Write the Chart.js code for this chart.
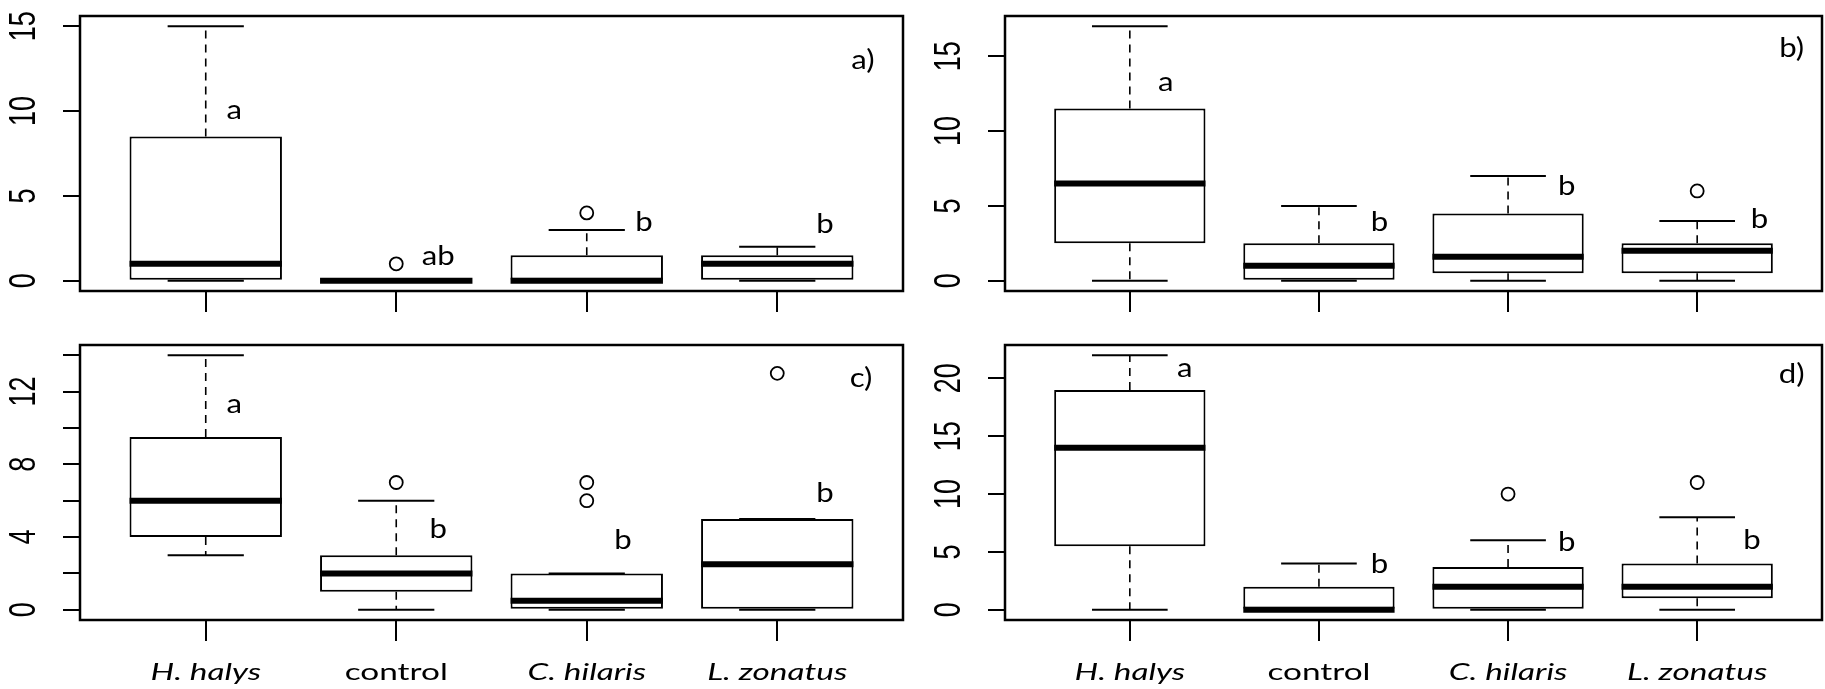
<!DOCTYPE html>
<html><head><meta charset="utf-8">
<script src="https://cdn.jsdelivr.net/npm/chart.js@4.4.1/dist/chart.umd.min.js"></script>
<style>
html,body{margin:0;padding:0;background:#fff;width:1825px;height:689px;overflow:hidden;position:relative}
canvas{position:absolute;display:block}
</style></head><body>
<canvas id="pa" width="912" height="330" style="left:0;top:0"></canvas>
<canvas id="pb" width="913" height="330" style="left:912px;top:0"></canvas>
<canvas id="pc" width="912" height="359" style="left:0;top:330px"></canvas>
<canvas id="pd" width="913" height="359" style="left:912px;top:330px"></canvas>
<script>
// ---------- DATA ----------
const categories = ['H. halys', 'control', 'C. hilaris', 'L. zonatus'];
const categoryItalic = [true, false, true, true];

// panel a)
const aMin = [0, 0, 0, 0];
const aQ1  = [0, 0, 0, 0];
const aMed = [1, 0, 0, 1];
const aQ3  = [8.5, 0, 1.5, 1.5];
const aMax = [15, 0, 3, 2];
const aOutliers = [[], [1], [4], []];
const aLetters = ['a', 'ab', 'b', 'b'];
const aYTicks = [0, 5, 10, 15];
const aYLabels = ['0', '5', '10', '15'];

// panel b)
const bMin = [0, 0, 0, 0];
const bQ1  = [2.5, 0, 0.5, 0.5];
const bMed = [6.5, 1, 1.6, 2];
const bQ3  = [11.5, 2.5, 4.5, 2.5];
const bMax = [17, 5, 7, 4];
const bOutliers = [[], [], [], [6]];
const bLetters = ['a', 'b', 'b', 'b'];
const bYTicks = [0, 5, 10, 15];
const bYLabels = ['0', '5', '10', '15'];

// panel c)
const cMin = [3, 0, 0, 0];
const cQ1  = [4, 1, 0, 0];
const cMed = [6, 2, 0.5, 2.5];
const cQ3  = [9.5, 3, 2, 5];
const cMax = [14, 6, 2, 5];
const cOutliers = [[], [7], [6, 7], [13]];
const cLetters = ['a', 'b', 'b', 'b'];
const cYTicks = [0, 2, 4, 6, 8, 10, 12, 14];
const cYLabels = ['0', '', '4', '', '8', '', '12', ''];

// panel d)
const dMin = [0, 0, 0, 0];
const dQ1  = [5.5, 0, 0, 1];
const dMed = [14, 0, 2, 2];
const dQ3  = [19, 2, 3.7, 4];
const dMax = [22, 4, 6, 8];
const dOutliers = [[], [], [10], [11]];
const dLetters = ['a', 'b', 'b', 'b'];
const dYTicks = [0, 5, 10, 15, 20];
const dYLabels = ['0', '5', '10', '15', '20'];

const panelTags = ['a)', 'b)', 'c)', 'd)'];

// ---------- annotation placement (data units) ----------
const letterPosA = [[1.15, 10.0], [2.22, 1.4], [3.30, 3.4], [4.25, 3.3]];
const letterPosB = [[1.19, 13.2], [2.32, 3.9], [3.31, 6.3], [4.33, 4.1]];
const letterPosC = [[1.15, 11.3], [2.22, 4.4], [3.19, 3.8], [4.25, 6.4]];
const letterPosD = [[1.29, 20.8], [2.32, 3.9], [3.31, 5.8], [4.29, 6.0]];
const tagPos = [[4.45, 13.0], [4.50, 15.5], [4.44, 12.7], [4.50, 20.3]];

// ---------- helpers ----------
function txt(ctx, s, x, y, font, sx, align, base, rot) {
  ctx.save();
  ctx.translate(x, y);
  ctx.scale(sx, 1);
  if (rot) ctx.rotate(rot);
  ctx.font = font;
  ctx.fillStyle = '#000';
  ctx.textAlign = align;
  ctx.textBaseline = base;
  ctx.fillText(s, 0, 0);
  ctx.restore();
}
function seg(ctx, x1, y1, x2, y2) {
  ctx.beginPath(); ctx.moveTo(x1, y1); ctx.lineTo(x2, y2); ctx.stroke();
}

const rboxPlugin = {
  id: 'rbox',
  afterDatasetsDraw(chart) {
    const p = chart.options.plugins.rbox;
    const xs = chart.scales.x, ys = chart.scales.y, ctx = chart.ctx;
    const ca = chart.chartArea;
    ctx.save();
    ctx.strokeStyle = '#000';
    for (let i = 0; i < categories.length; i++) {
      const cx = xs.getPixelForValue(i + 1);
      const hw = (xs.getPixelForValue(i + 1.4) - xs.getPixelForValue(i + 0.6)) / 2;
      const sw = hw / 2;
      const yMin = ys.getPixelForValue(p.min[i]);
      const yQ1 = ys.getPixelForValue(p.q1[i]);
      const yMed = ys.getPixelForValue(p.med[i]);
      const yQ3 = ys.getPixelForValue(p.q3[i]);
      const yMax = ys.getPixelForValue(p.max[i]);
      ctx.lineCap = 'butt';
      ctx.lineWidth = 1.6;
      ctx.setLineDash([8, 6]);
      if (p.max[i] > p.q3[i]) seg(ctx, cx, yQ3, cx, yMax);
      if (p.min[i] < p.q1[i]) seg(ctx, cx, yQ1, cx, yMin);
      ctx.setLineDash([]);
      ctx.lineWidth = 2;
      seg(ctx, cx - sw, yMax, cx + sw, yMax);
      seg(ctx, cx - sw, yMin, cx + sw, yMin);
      ctx.lineWidth = 6;
      seg(ctx, cx - hw, yMed, cx + hw, yMed);
      // significance letters
      const lp = p.letterPos[i];
      txt(ctx, p.letters[i], xs.getPixelForValue(lp[0]), ys.getPixelForValue(lp[1]),
          '26px Lato', 1.2, 'center', 'middle');
    }
    // panel tag
    txt(ctx, p.tag, xs.getPixelForValue(p.tagPos[0]), ys.getPixelForValue(p.tagPos[1]),
        '26px Lato', 1.2, 'center', 'middle');
    // frame
    ctx.lineWidth = 2.5;
    ctx.strokeRect(ca.left, ca.top, ca.right - ca.left, ca.bottom - ca.top);
    // y tick labels (rotated, R style)
    p.yTicks.forEach((v, k) => {
      if (!p.yLabels[k]) return;
      txt(ctx, p.yLabels[k], ca.left - 55, ys.getPixelForValue(v),
          '27px "Liberation Sans"', 1.35, 'center', 'middle', -Math.PI / 2);
    });
    // category labels
    if (p.showX) {
      categories.forEach((c, i) => {
        txt(ctx, c, xs.getPixelForValue(i + 1), ca.bottom + 60,
            (categoryItalic[i] ? 'italic ' : '') + '23px Lato', 1.45, 'center', 'alphabetic');
      });
    }
    ctx.restore();
  }
};

function makePanel(id, W, H, pad, yW, xH, mn, q1, md, q3, mx, outs, letters, letterPos, yTicks, yLabels, tag, tagP, showX) {
  let lo = Infinity, hi = -Infinity;
  [mn, q1, md, q3, mx].forEach(a => a.forEach(v => { lo = Math.min(lo, v); hi = Math.max(hi, v); }));
  outs.forEach(a => a.forEach(v => { lo = Math.min(lo, v); hi = Math.max(hi, v); }));
  const ext = (hi - lo) * 0.04;
  const n = categories.length;
  const xext = n * 0.04;
  const outData = [];
  outs.forEach((a, i) => a.forEach(v => outData.push({ x: i + 1, y: v })));
  new Chart(document.getElementById(id), {
    type: 'bar',
    data: {
      datasets: [
        {
          type: 'bar',
          data: categories.map((c, i) => ({ x: i + 1, y: [q1[i], q3[i]] })),
          backgroundColor: '#fff',
          borderColor: '#000',
          borderWidth: 2,
          borderSkipped: false,
          categoryPercentage: 0.8,
          barPercentage: 1
        },
        {
          type: 'scatter',
          data: outData,
          pointStyle: 'circle',
          pointRadius: 6.5,
          pointBorderWidth: 1.8,
          pointBackgroundColor: 'rgba(0,0,0,0)',
          pointBorderColor: '#000',
          showLine: false
        }
      ]
    },
    options: {
      responsive: false,
      animation: false,
      devicePixelRatio: 1,
      layout: { padding: pad, autoPadding: false },
      plugins: {
        legend: { display: false },
        tooltip: { enabled: false },
        rbox: { min: mn, q1: q1, med: md, q3: q3, max: mx, letters: letters, letterPos: letterPos,
                yTicks: yTicks, yLabels: yLabels, tag: tag, tagPos: tagP, showX: showX }
      },
      scales: {
        x: {
          type: 'linear',
          offset: false,
          min: 0.5 - xext,
          max: n + 0.5 + xext,
          afterBuildTicks: s => { s.ticks = categories.map((c, i) => ({ value: i + 1 })); },
          afterFit: s => { s.height = xH; },
          grid: { offset: false, drawOnChartArea: false, drawTicks: true, tickLength: 21, color: '#000', lineWidth: 2 },
          border: { display: false },
          ticks: { display: false }
        },
        y: {
          type: 'linear',
          min: lo - ext,
          max: hi + ext,
          afterBuildTicks: s => { s.ticks = yTicks.map(v => ({ value: v })); },
          afterFit: s => { s.width = yW; },
          grid: { drawOnChartArea: false, drawTicks: true, tickLength: 17, color: '#000', lineWidth: 2 },
          border: { display: false },
          ticks: { display: false }
        }
      }
    },
    plugins: [rboxPlugin]
  });
}

makePanel('pa', 912, 330, { left: 0, top: 16, right: 9, bottom: 0 }, 80, 39,
  aMin, aQ1, aMed, aQ3, aMax, aOutliers, aLetters, letterPosA, aYTicks, aYLabels, panelTags[0], tagPos[0], false);
makePanel('pb', 913, 330, { left: 0, top: 16, right: 3, bottom: 0 }, 93, 39,
  bMin, bQ1, bMed, bQ3, bMax, bOutliers, bLetters, letterPosB, bYTicks, bYLabels, panelTags[1], tagPos[1], false);
makePanel('pc', 912, 359, { left: 0, top: 15, right: 9, bottom: 0 }, 80, 69,
  cMin, cQ1, cMed, cQ3, cMax, cOutliers, cLetters, letterPosC, cYTicks, cYLabels, panelTags[2], tagPos[2], true);
makePanel('pd', 913, 359, { left: 0, top: 15, right: 3, bottom: 0 }, 93, 69,
  dMin, dQ1, dMed, dQ3, dMax, dOutliers, dLetters, letterPosD, dYTicks, dYLabels, panelTags[3], tagPos[3], true);
</script>
</body></html>
